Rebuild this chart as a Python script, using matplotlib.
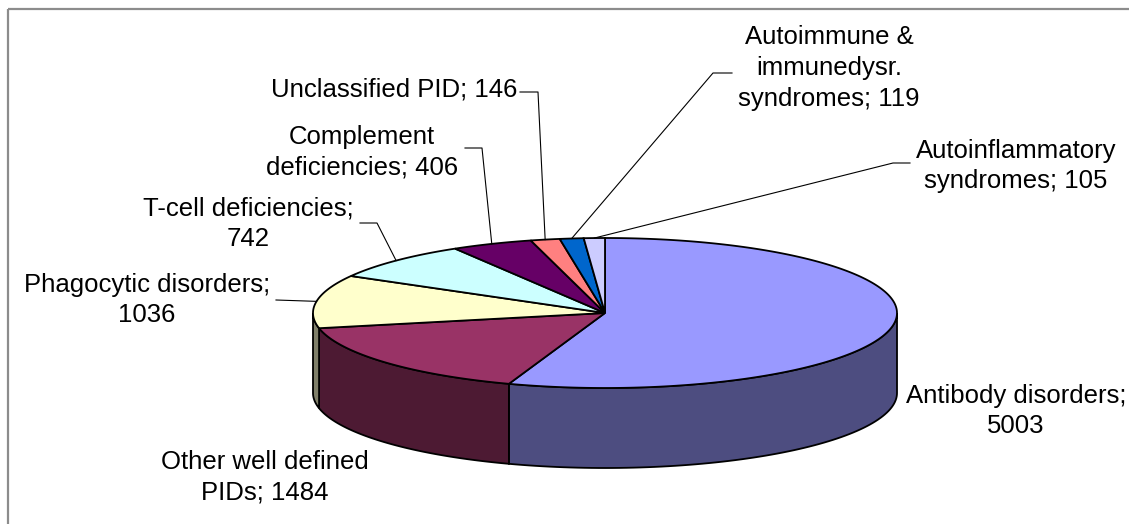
import numpy as np
import matplotlib
matplotlib.use("Agg")
import matplotlib.pyplot as plt
from matplotlib.patches import Polygon, Rectangle

plt.rcParams['font.family'] = ['Liberation Sans', 'DejaVu Sans']

# data (clockwise from 12 o'clock, like the Excel 3-D pie)
labels = ["Antibody disorders;\n5003",
          "Other well defined\nPIDs; 1484",
          "Phagocytic disorders;\n1036",
          "T-cell deficiencies;\n742",
          "Complement\ndeficiencies; 406",
          "Unclassified PID; 146",
          "Autoimmune &\nimmunedysr.\nsyndromes; 119",
          "Autoinflammatory\nsyndromes; 105"]
values = [5003, 1484, 1036, 742, 406, 146, 119, 105]
top_colors = ["#9999FF", "#993366", "#FFFFCC", "#CCFFFF",
              "#660066", "#FF8080", "#0066CC", "#CCCCFF"]
side_colors = ["#4D4D80", "#4D1A33", "#80806A", "#6A8080",
               "#330033", "#804040", "#003366", "#66667F"]

# layout in pixels (y down)
W, H = 1129, 524
cx, cy, a, b, depth = 605, 313, 292, 75, 80
# label centre, text alignment, leader elbow (None -> no leader)
label_pos = [(1016, 411, "center", None),
             (265, 477, "center", None),
             (147, 300, "center", [(276, 300)]),
             (248, 224, "center", [(360, 223), (377, 223)]),
             (362, 152, "center", [(465, 148), (482, 148)]),
             (517, 89, "right", [(520, 92), (538, 92)]),
             (829, 68, "center", [(732, 73), (713, 73)]),
             (1016, 166, "center", [(910, 163), (893, 163)])]

fig = plt.figure(figsize=(W / 100, H / 100), dpi=100)
ax = fig.add_axes([0, 0, 1, 1])
ax.set_xlim(0, W)
ax.set_ylim(H, 0)
ax.axis("off")

ax.add_patch(Rectangle((8, 9), W + 20, H + 20, fill=False,
                       edgecolor="#8C8C8C", lw=1.6, zorder=0))


def ell(t):
    t = np.radians(t)
    return cx + a * np.cos(t), cy - b * np.sin(t)


fracs = np.array(values) / np.sum(values)
starts = 90 - 360 * np.concatenate([[0], np.cumsum(fracs)[:-1]])
ends = starts - 360 * fracs

# side walls (front half only)
for s, e, col in zip(starts, ends, side_colors):
    lo, hi = e, s
    for k in (-360, 0, 360):
        l2, h2 = max(lo, 180 + k), min(hi, 360 + k)
        if h2 <= l2:
            continue
        t = np.linspace(l2, h2, 80)
        x, y = ell(t)
        pts = np.column_stack([np.concatenate([x, x[::-1]]),
                               np.concatenate([y, y[::-1] + depth])])
        ax.add_patch(Polygon(pts, closed=True, facecolor=col,
                             edgecolor="black", lw=1.3, zorder=2))

# top faces
for s, e, col in zip(starts, ends, top_colors):
    t = np.linspace(s, e, 200)
    x, y = ell(t)
    pts = np.column_stack([np.concatenate([[cx], x]), np.concatenate([[cy], y])])
    ax.add_patch(Polygon(pts, closed=True, facecolor=col,
                         edgecolor="black", lw=1.3, zorder=3))

# labels and leader lines
for lab, s, e, (lx, ly, ha, elbow) in zip(labels, starts, ends, label_pos):
    ax.text(lx, ly, lab, ha=ha, va="center", fontsize=18.5,
            linespacing=1.35, color="black", zorder=5)
    if elbow:
        mx, my = ell((s + e) / 2)
        pts = elbow + [(mx, my)]
        ax.plot([p[0] for p in pts], [p[1] for p in pts],
                color="black", lw=0.8, zorder=4)

fig.savefig("out.png", dpi=100)
